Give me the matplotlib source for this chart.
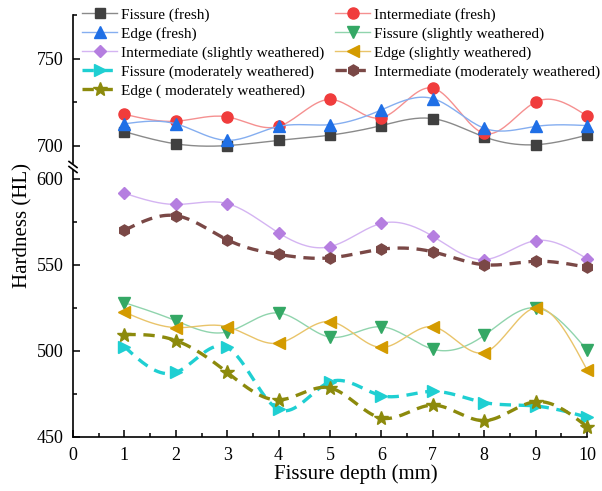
import numpy as np
import matplotlib
matplotlib.use("Agg")
import matplotlib.pyplot as plt
from matplotlib.lines import Line2D
from matplotlib.ticker import MultipleLocator, FixedLocator

plt.rcParams["font.family"] = ["Liberation Serif", "DejaVu Serif"]

depth = [1, 2, 3, 4, 5, 6, 7, 8, 9, 10]

fissure_fresh = [708, 701, 700, 703, 706, 711.5, 715.5, 705, 700.5, 706]
intermediate_fresh = [718, 714, 716.5, 711, 726.5, 716, 733, 707, 725, 717]
edge_fresh = [712.5, 712.5, 703, 711, 712, 720.5, 727, 710, 711, 711.5]

fissure_slight = [528, 517.5, 511, 522, 508, 514, 501, 509, 525, 500.5]
intermediate_slight = [591.5, 585, 585.5, 568.5, 560.5, 574, 566.5, 553, 564, 553.5]
edge_slight = [522.5, 513.5, 514, 504.5, 517, 502, 514, 499, 525, 489]

fissure_moderate = [502.5, 487.5, 502, 466, 482, 474, 476.5, 470, 468, 461.5]
intermediate_moderate = [570, 578.5, 564.5, 556, 554, 559, 557.5, 550, 552, 548.5]
edge_moderate = [509.5, 506, 487.5, 471.5, 478.5, 461, 468.5, 459.5, 470.5, 456]

x_ticks = [0, 1, 2, 3, 4, 5, 6, 7, 8, 9, 10]


def natural_spline(x, y, n_per=20):
    """Natural cubic spline through (x, y); returns dense curve and knot indices."""
    x = np.asarray(x, float)
    y = np.asarray(y, float)
    n = len(x)
    h = np.diff(x)
    A = np.zeros((n, n))
    b = np.zeros(n)
    A[0, 0] = A[-1, -1] = 1.0
    for i in range(1, n - 1):
        A[i, i - 1] = h[i - 1]
        A[i, i] = 2 * (h[i - 1] + h[i])
        A[i, i + 1] = h[i]
        b[i] = 6 * ((y[i + 1] - y[i]) / h[i] - (y[i] - y[i - 1]) / h[i - 1])
    M = np.linalg.solve(A, b)
    xs, ys = [], []
    for i in range(n - 1):
        t = np.linspace(x[i], x[i + 1], n_per, endpoint=False)
        a = x[i + 1] - t
        c = t - x[i]
        s = (M[i] * a ** 3 + M[i + 1] * c ** 3) / (6 * h[i]) \
            + (y[i] / h[i] - M[i] * h[i] / 6) * a \
            + (y[i + 1] / h[i] - M[i + 1] * h[i] / 6) * c
        xs.append(t)
        ys.append(s)
    xs.append([x[-1]])
    ys.append([y[-1]])
    return np.concatenate(xs), np.concatenate(ys), list(range(0, (n - 1) * n_per + 1, n_per))


series = [
    # label, values, marker, marker colour, line colour, dashed, marker size
    ("Fissure (fresh)", fissure_fresh, "s", "#404040", "#8a8a8a", False, 7),
    ("Intermediate (fresh)", intermediate_fresh, "o", "#f03c3c", "#f59090", False, 8),
    ("Edge (fresh)", edge_fresh, "^", "#1f6fe6", "#85aef0", False, 8),
    ("Fissure (slightly weathered)", fissure_slight, "v", "#34a865", "#90d4ad", False, 8),
    ("Intermediate (slightly weathered)", intermediate_slight, "D", "#b57ee0", "#d4b4f2", False, 6.5),
    ("Edge (slightly weathered)", edge_slight, "<", "#d49b00", "#e9c46a", False, 8),
    ("Fissure (moderately weathered)", fissure_moderate, ">", "#1fcfd2", "#1fcfd2", True, 8),
    ("Intermediate (moderately weathered)", intermediate_moderate, "h", "#7a4846", "#7a4846", True, 8),
    ("Edge ( moderately weathered)", edge_moderate, "*", "#8c8a0c", "#8c8a0c", True, 10),
]

W, H = 602, 491
fig = plt.figure(figsize=(W / 100, H / 100), dpi=100)

x0, x1 = 73, 587
low_bot, low_top = 437, 170
up_bot, up_top = 163, 15

ax_low = fig.add_axes([x0 / W, (H - low_bot) / H, (x1 - x0) / W, (low_bot - low_top) / H])
ax_up = fig.add_axes([x0 / W, (H - up_bot) / H, (x1 - x0) / W, (up_bot - up_top) / H], sharex=ax_low)

handles = []
for label, vals, mk, mcol, lcol, dashed, ms in series:
    ax = ax_up if min(vals) > 650 else ax_low
    xs, ys, idx = natural_spline(depth, vals)
    ln, = ax.plot(xs, ys, color=lcol, lw=2.4 if dashed else 1.0,
                  ls=(0, (3.4, 2.3)) if dashed else "-",
                  marker=mk, markevery=idx, markersize=ms,
                  markerfacecolor=mcol, markeredgecolor=mcol, label=label,
                  clip_on=False, zorder=3)
    handles.append(ln)

for ax in (ax_low, ax_up):
    ax.spines["top"].set_visible(False)
    ax.spines["right"].set_visible(False)
    ax.spines["left"].set_linewidth(1.2)
    ax.spines["bottom"].set_linewidth(1.2)
    ax.tick_params(direction="in", which="major", length=5, width=1.1, labelsize=13, pad=7)
    ax.tick_params(direction="in", which="minor", length=3, width=1.1)

ax_low.set_xlim(0, 10)
ax_low.xaxis.set_major_locator(FixedLocator(x_ticks))
ax_low.xaxis.set_minor_locator(MultipleLocator(0.5))
ax_low.set_ylim(450, 605)
ax_low.yaxis.set_major_locator(FixedLocator([450, 500, 550, 600]))
ax_low.yaxis.set_minor_locator(FixedLocator([475, 525, 575]))
ax_low.set_xlabel("Fissure depth (mm)", fontsize=15)
ax_low.xaxis.set_label_coords((356 - x0) / (x1 - x0), -(464 - low_bot) / (low_bot - low_top))

ax_up.set_ylim(690, 775)
ax_up.yaxis.set_major_locator(FixedLocator([700, 750]))
ax_up.yaxis.set_minor_locator(FixedLocator([725, 775]))
ax_up.spines["bottom"].set_visible(False)
ax_up.tick_params(axis="x", which="both", bottom=False, labelbottom=False)
ax_up.patch.set_alpha(0)

# axis break marks on the left spine
for yy in (164.5, 169.5):
    fig.add_artist(Line2D([(x0 - 4) / W, (x0 + 4) / W],
                          [(H - yy + 3) / H, (H - yy - 3) / H],
                          color="black", lw=1.2))

fig.text(23 / W, (H - 226) / H, "Hardness (HL)", rotation=90,
         ha="center", va="center", fontsize=15)

col1 = [handles[i] for i in (0, 2, 4, 6, 8)]
col2 = [handles[i] for i in (1, 3, 5, 7)]
leg_kw = dict(frameon=False, fontsize=11, handlelength=2.3, handletextpad=0.25,
              labelspacing=0.33, borderpad=0, borderaxespad=0, numpoints=1,
              loc="upper left")
fig.legend(handles=col1, labels=[h.get_label() for h in col1],
           bbox_to_anchor=(82 / W, (H - 8) / H), **leg_kw)
fig.legend(handles=col2, labels=[h.get_label() for h in col2],
           bbox_to_anchor=(335 / W, (H - 8) / H), **leg_kw)

fig.savefig("out.png", dpi=100)
